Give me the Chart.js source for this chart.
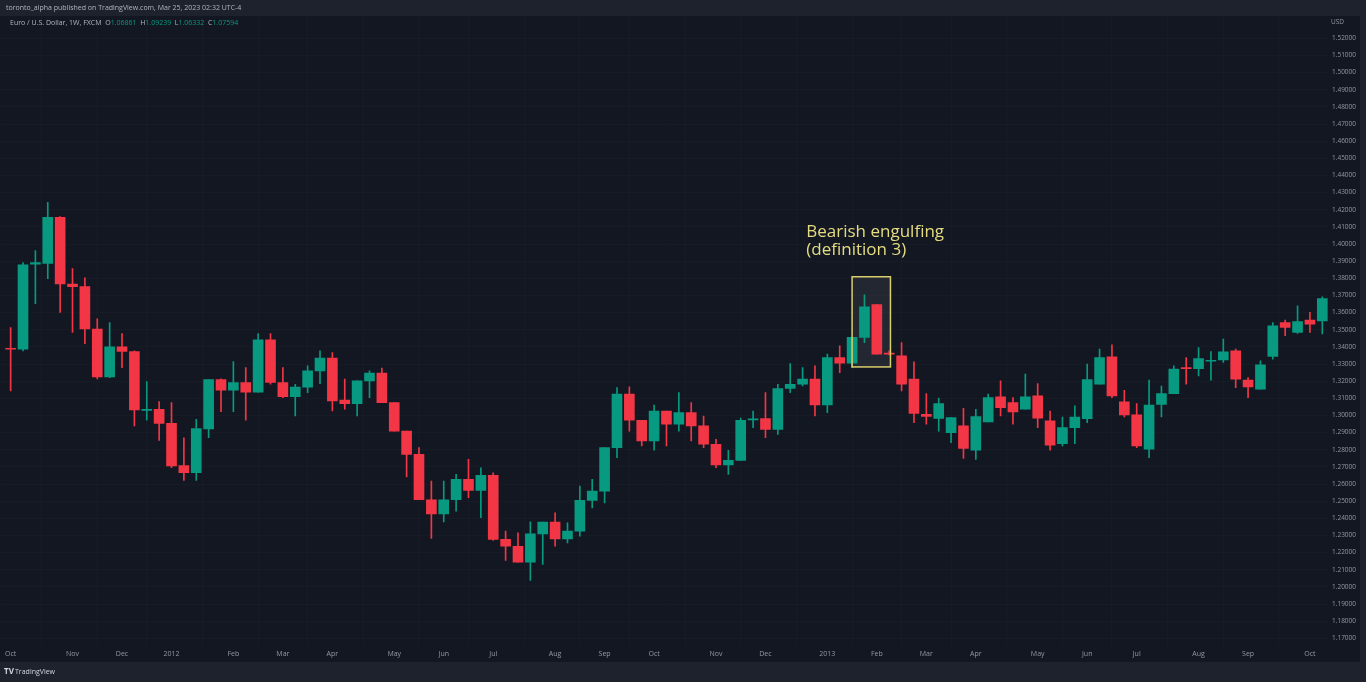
<!DOCTYPE html>
<html>
<head>
<meta charset="utf-8">
<title>Euro / U.S. Dollar, 1W</title>
<script src="https://cdn.jsdelivr.net/npm/chart.js@4.4.1/dist/chart.umd.min.js"></script>
<style>
  html, body { margin: 0; padding: 0; background: #1e222d; overflow: hidden; }
  #wrap { width: 1366px; height: 682px; }
</style>
</head>
<body>
<div id="wrap"><canvas id="chart" width="1366" height="682"></canvas></div>
<script>
// weekly candles (one entry per week)
const opens = [
  1.3391, 1.3387, 1.3882, 1.3887, 1.4156, 1.3767, 1.3751, 1.3504, 1.3225, 1.3400,
  1.3373, 1.3030, 1.3036, 1.2954, 1.2707, 1.2666, 1.2921, 1.3209, 1.3147, 1.3192,
  1.3136, 1.3441, 1.3192, 1.3110, 1.3165, 1.3260, 1.3334, 1.3089, 1.3069, 1.3202,
  1.3247, 1.3075, 1.2909, 1.2773, 1.2508, 1.2426, 1.2508, 1.2627, 1.2563, 1.2651,
  1.2277, 1.2237, 1.2144, 1.2309, 1.2378, 1.2280, 1.2325, 1.2505, 1.2559, 1.2812,
  1.3124, 1.2972, 1.2851, 1.3026, 1.2949, 1.3016, 1.2939, 1.2832, 1.2711, 1.2738,
  1.2974, 1.2981, 1.2919, 1.3157, 1.3182, 1.3212, 1.3061, 1.3338, 1.3305, 1.3455,
  1.3646, 1.3363, 1.3348, 1.3212, 1.3007, 1.2982, 1.2900, 1.2939, 1.2797, 1.2962,
  1.3108, 1.3075, 1.3036, 1.3114, 1.2968, 1.2835, 1.2929, 1.2981, 1.3182, 1.3342,
  1.3079, 1.3003, 1.2803, 1.3065, 1.3127, 1.3278, 1.3273, 1.3316, 1.3324, 1.3377,
  1.3206, 1.3153, 1.3344, 1.3542, 1.3484, 1.3556, 1.3552
];
const highs = [
  1.3513, 1.3891, 1.3961, 1.4243, 1.4160, 1.3856, 1.3803, 1.3564, 1.3542, 1.3478,
  1.3377, 1.3197, 1.3081, 1.3075, 1.2870, 1.2978, 1.3209, 1.3213, 1.3314, 1.3279,
  1.3478, 1.3478, 1.3279, 1.3182, 1.3289, 1.3377, 1.3367, 1.3212, 1.3202, 1.3260,
  1.3276, 1.3075, 1.2909, 1.2812, 1.2617, 1.2617, 1.2656, 1.2744, 1.2695, 1.2666,
  1.2325, 1.2315, 1.2379, 1.2378, 1.2432, 1.2374, 1.2588, 1.2627, 1.2812, 1.3162,
  1.3167, 1.2972, 1.3061, 1.3026, 1.3133, 1.3075, 1.2997, 1.2861, 1.2797, 1.2984,
  1.3026, 1.3133, 1.3182, 1.3303, 1.3279, 1.3289, 1.3358, 1.3406, 1.3455, 1.3704,
  1.3646, 1.3377, 1.3425, 1.3313, 1.3127, 1.3102, 1.2987, 1.3042, 1.3036, 1.3124,
  1.3202, 1.3104, 1.3241, 1.3186, 1.3026, 1.2991, 1.3056, 1.3299, 1.3387, 1.3412,
  1.3147, 1.3069, 1.3206, 1.3172, 1.3289, 1.3338, 1.3396, 1.3373, 1.3445, 1.3387,
  1.3221, 1.3318, 1.3542, 1.3556, 1.3640, 1.3601, 1.3692
];
const lows = [
  1.3143, 1.3377, 1.3652, 1.3798, 1.3601, 1.3484, 1.3418, 1.3213, 1.3221, 1.3279,
  1.2939, 1.2972, 1.2855, 1.2695, 1.2621, 1.2621, 1.2870, 1.3022, 1.3022, 1.2972,
  1.3136, 1.3182, 1.3104, 1.2997, 1.3133, 1.3186, 1.3026, 1.3036, 1.2997, 1.3104,
  1.3075, 1.2909, 1.2641, 1.2508, 1.2282, 1.2379, 1.2442, 1.2520, 1.2403, 1.2271,
  1.2154, 1.2144, 1.2037, 1.2131, 1.2237, 1.2257, 1.2296, 1.2461, 1.2490, 1.2753,
  1.2909, 1.2822, 1.2797, 1.2822, 1.2909, 1.2851, 1.2812, 1.2695, 1.2656, 1.2738,
  1.2929, 1.2870, 1.2890, 1.3133, 1.3172, 1.2997, 1.3016, 1.3250, 1.3279, 1.3425,
  1.3358, 1.3353, 1.3143, 1.2958, 1.2949, 1.2909, 1.2841, 1.2750, 1.2744, 1.2962,
  1.2997, 1.2949, 1.3036, 1.2929, 1.2797, 1.2822, 1.2835, 1.2958, 1.3182, 1.3104,
  1.2991, 1.2812, 1.2753, 1.2991, 1.3127, 1.3182, 1.3231, 1.3206, 1.3309, 1.3162,
  1.3104, 1.3153, 1.3328, 1.3465, 1.3478, 1.3484, 1.3476
];
const closes = [
  1.3386, 1.3879, 1.3891, 1.4156, 1.3767, 1.3751, 1.3504, 1.3225, 1.3400, 1.3373,
  1.3032, 1.3036, 1.2954, 1.2705, 1.2666, 1.2923, 1.3209, 1.3147, 1.3192, 1.3136,
  1.3441, 1.3192, 1.3110, 1.3165, 1.3260, 1.3334, 1.3085, 1.3069, 1.3202, 1.3247,
  1.3075, 1.2909, 1.2773, 1.2508, 1.2426, 1.2508, 1.2627, 1.2563, 1.2651, 1.2277,
  1.2237, 1.2144, 1.2309, 1.2378, 1.2280, 1.2325, 1.2505, 1.2559, 1.2812, 1.3124,
  1.2972, 1.2851, 1.3026, 1.2949, 1.3016, 1.2939, 1.2832, 1.2711, 1.2738, 1.2972,
  1.2980, 1.2919, 1.3157, 1.3182, 1.3212, 1.3061, 1.3338, 1.3305, 1.3455, 1.3634,
  1.3358, 1.3358, 1.3182, 1.3012, 1.2994, 1.3069, 1.2987, 1.2808, 1.2993, 1.3104,
  1.3046, 1.3020, 1.3108, 1.2984, 1.2826, 1.2929, 1.2991, 1.3209, 1.3338, 1.3114,
  1.3003, 1.2822, 1.3061, 1.3127, 1.3270, 1.3273, 1.3332, 1.3321, 1.3371, 1.3212,
  1.3167, 1.3295, 1.3523, 1.3513, 1.3548, 1.3533, 1.3681
];

// time axis: week index where each month label sits
const monthTicks = [0, 5, 9, 13, 18, 22, 26, 31, 35, 39, 44, 48, 52, 57, 61, 66, 70, 74, 78, 83, 87, 91, 96, 100, 105];
const monthLabels = ['Oct', 'Nov', 'Dec', '2012', 'Feb', 'Mar', 'Apr', 'May', 'Jun', 'Jul', 'Aug', 'Sep', 'Oct',
  'Nov', 'Dec', '2013', 'Feb', 'Mar', 'Apr', 'May', 'Jun', 'Jul', 'Aug', 'Sep', 'Oct'];

// price axis
const priceTicks = [1.17, 1.18, 1.19, 1.20, 1.21, 1.22, 1.23, 1.24, 1.25, 1.26, 1.27, 1.28, 1.29, 1.30,
  1.31, 1.32, 1.33, 1.34, 1.35, 1.36, 1.37, 1.38, 1.39, 1.40, 1.41, 1.42, 1.43, 1.44, 1.45, 1.46,
  1.47, 1.48, 1.49, 1.50, 1.51, 1.52];

// highlighted pattern (week index / price)
const boxWeeks = [68.0, 71.1];
const boxPrices = [1.3809, 1.3283];
const noteWeek = 64.3;
const noteLines = ['Bearish engulfing', '(definition 3)'];
const notePrices = [1.4038, 1.3935];

const UP = '#089981';
const DOWN = '#f23645';

const bodies = opens.map((o, i) => ({ x: i, y: [o, closes[i]] }));
const wicks = opens.map((o, i) => ({ x: i, y: [lows[i], highs[i]] }));
const candleColor = ctx => {
  const i = ctx.dataIndex;
  return closes[i] >= opens[i] ? UP : DOWN;
};

const framePlugin = {
  id: 'frame',
  beforeDraw(chart) {
    const { ctx, chartArea: a } = chart;
    const y = chart.scales.y;
    const x = chart.scales.x;
    ctx.save();
    ctx.fillStyle = '#1e222d';
    ctx.fillRect(0, 0, chart.width, chart.height);
    ctx.fillStyle = '#131722';
    ctx.fillRect(0, a.top, y.right, x.bottom - a.top);
    ctx.restore();
  },
  beforeDatasetsDraw(chart) {
    const { ctx } = chart;
    const x = chart.scales.x, y = chart.scales.y;
    const l = x.getPixelForValue(boxWeeks[0]), r = x.getPixelForValue(boxWeeks[1]);
    const t = y.getPixelForValue(boxPrices[0]), b = y.getPixelForValue(boxPrices[1]);
    ctx.save();
    ctx.fillStyle = 'rgba(120, 123, 134, 0.16)';
    ctx.fillRect(l, t, r - l, b - t);
    ctx.restore();
  },
  afterDatasetsDraw(chart) {
    const { ctx } = chart;
    const x = chart.scales.x, y = chart.scales.y;
    const l = x.getPixelForValue(boxWeeks[0]), r = x.getPixelForValue(boxWeeks[1]);
    const t = y.getPixelForValue(boxPrices[0]), b = y.getPixelForValue(boxPrices[1]);
    ctx.save();
    ctx.strokeStyle = '#d9cf6c';
    ctx.lineWidth = 1.5;
    ctx.strokeRect(l, t, r - l, b - t);

    ctx.fillStyle = '#e6dd80';
    ctx.font = '17px "Open Sans", sans-serif';
    ctx.textBaseline = 'alphabetic';
    noteLines.forEach((s, k) => {
      ctx.fillText(s, x.getPixelForValue(noteWeek), y.getPixelForValue(notePrices[k]));
    });
    ctx.restore();
  },
  afterDraw(chart) {
    const { ctx } = chart;
    const y = chart.scales.y;
    ctx.save();
    ctx.textBaseline = 'middle';
    ctx.font = '7px "Open Sans", sans-serif';
    ctx.fillStyle = '#b2b5be';
    ctx.fillText('toronto_alpha published on TradingView.com, Mar 25, 2023 02:32 UTC-4', 6, 8);

    // symbol legend
    let px = 10;
    const parts = [
      ['Euro / U.S. Dollar, 1W, FXCM  ', '#b2b5be'],
      ['O', '#b2b5be'], ['1.06861  ', '#089981'],
      ['H', '#b2b5be'], ['1.09239  ', '#089981'],
      ['L', '#b2b5be'], ['1.06332  ', '#089981'],
      ['C', '#b2b5be'], ['1.07594', '#089981']
    ];
    ctx.font = '7px "Open Sans", sans-serif';
    parts.forEach(([s, c]) => {
      ctx.fillStyle = c;
      ctx.fillText(s, px, 23);
      px += ctx.measureText(s).width;
    });

    ctx.font = '6.5px "Open Sans", sans-serif';
    ctx.fillStyle = '#9598a1';
    ctx.fillText('USD', y.left + 3, 22);

    // footer logo
    ctx.fillStyle = '#d1d4dc';
    ctx.font = 'bold 8px "Open Sans", sans-serif';
    ctx.fillText('TV', 4, 672);
    ctx.font = '7px "Open Sans", sans-serif';
    ctx.fillText('TradingView', 15, 672);
    ctx.restore();
  }
};

new Chart(document.getElementById('chart'), {
  type: 'bar',
  data: {
    datasets: [
      {
        label: 'wick',
        data: wicks,
        backgroundColor: candleColor,
        barThickness: 1,
        grouped: false,
        order: 2
      },
      {
        label: 'body',
        data: bodies,
        backgroundColor: candleColor,
        barThickness: 10,
        minBarLength: 1,
        grouped: false,
        order: 1
      }
    ]
  },
  options: {
    responsive: false,
    animation: false,
    events: [],
    layout: { padding: { top: 16, right: 6, bottom: 20, left: 0 } },
    plugins: { legend: { display: false }, tooltip: { enabled: false } },
    scales: {
      x: {
        type: 'linear',
        min: -0.81,
        max: 106.46,
        offset: false,
        border: { display: false },
        grid: { color: 'rgba(42, 46, 57, 0.2)', drawTicks: false },
        afterBuildTicks: s => { s.ticks = monthTicks.map(v => ({ value: v })); },
        afterFit: s => { s.height = 17; },
        ticks: {
          autoSkip: false,
          maxRotation: 0,
          padding: 5,
          color: '#9598a1',
          font: { family: 'Open Sans', size: 7 },
          callback: v => monthLabels[monthTicks.indexOf(v)]
        }
      },
      y: {
        position: 'right',
        min: 1.1661,
        max: 1.5330,
        border: { display: false },
        grid: { color: 'rgba(42, 46, 57, 0.2)', drawTicks: false },
        afterBuildTicks: s => { s.ticks = priceTicks.map(v => ({ value: v })); },
        afterFit: s => { s.width = 32; },
        ticks: {
          padding: 4,
          color: '#9598a1',
          font: { family: 'Open Sans', size: 6.5 },
          callback: v => v.toFixed(5)
        }
      }
    }
  },
  plugins: [framePlugin]
});
</script>
</body>
</html>
